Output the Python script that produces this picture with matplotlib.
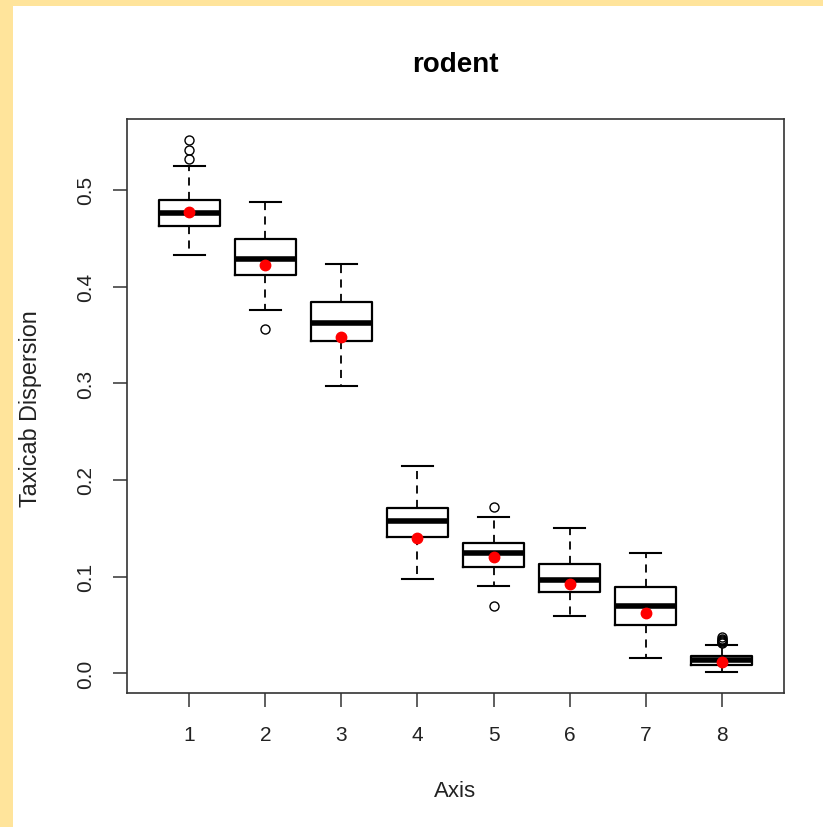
import matplotlib
matplotlib.use("Agg")
import matplotlib.pyplot as plt
from matplotlib.patches import Rectangle

plt.rcParams['font.family'] = ['Liberation Sans', 'DejaVu Sans']

axes_labels = [1, 2, 3, 4, 5, 6, 7, 8]
q1 = [0.4624, 0.4120, 0.3434, 0.1411, 0.1100, 0.0845, 0.0504, 0.0087]
medians = [0.4758, 0.4282, 0.3627, 0.1576, 0.1248, 0.0969, 0.0700, 0.0135]
q3 = [0.4892, 0.4489, 0.3838, 0.1707, 0.1349, 0.1128, 0.0893, 0.0180]
whisker_low = [0.4327, 0.3758, 0.2972, 0.0979, 0.0907, 0.0594, 0.0159, 0.0011]
whisker_high = [0.5247, 0.4875, 0.4234, 0.2142, 0.1617, 0.1500, 0.1245, 0.0297]
means = [0.4771, 0.4223, 0.3476, 0.1397, 0.1204, 0.0925, 0.0625, 0.0121]
outliers = [
    [0.5319, 0.5412, 0.5513],
    [0.3565],
    [],
    [],
    [0.1724, 0.0697],
    [],
    [],
    [0.0310, 0.0322, 0.0334, 0.0346, 0.0358, 0.0372],
]
yticks = [0.0, 0.1, 0.2, 0.3, 0.4, 0.5]

W, H = 823, 828
fig = plt.figure(figsize=(W / 100, H / 100), dpi=100)
fig.patch.set_facecolor('#FFE49B')
fig.add_artist(Rectangle((13 / W, 0), 1 - 13 / W, 1 - 7 / H, transform=fig.transFigure,
                         facecolor='white', edgecolor='none', zorder=0))

ax = fig.add_axes([127 / W, 1 - 694 / H, (784 - 127) / W, (694 - 120) / H])
ax.set_facecolor('white')

stats = []
for i in range(len(axes_labels)):
    stats.append(dict(med=medians[i], q1=q1[i], q3=q3[i], whislo=whisker_low[i],
                      whishi=whisker_high[i], fliers=outliers[i], mean=means[i],
                      label=str(axes_labels[i])))

ax.bxp(stats, positions=axes_labels, widths=0.8, showmeans=False, patch_artist=False,
       boxprops=dict(color='black', linewidth=1.6),
       medianprops=dict(color='black', linewidth=4.0, solid_capstyle='butt'),
       whiskerprops=dict(color='black', linewidth=1.3, linestyle=(0, (4.5, 3.5))),
       capprops=dict(color='black', linewidth=1.5),
       capwidths=0.4,
       flierprops=dict(marker='o', markerfacecolor='none', markeredgecolor='black',
                       markersize=6.5, markeredgewidth=1.0))

ax.plot(axes_labels, means, linestyle='none', marker='o', color='red',
        markersize=7.5, zorder=5)

ax.set_xlim(0.18, 8.82)
ax.set_ylim(-0.0203, 0.5733)
ax.set_xticks(axes_labels)
ax.set_xticklabels([str(a) for a in axes_labels], va='center')
ax.set_yticks(yticks)
ax.set_yticklabels([f"{t:.1f}" for t in yticks], rotation=90, va='center', ha='center')
ax.tick_params(axis='both', direction='out', length=10, width=1.1, colors='#333333',
               labelsize=15, labelcolor='#222222')
ax.tick_params(axis='x', pad=20.2)
ax.tick_params(axis='y', pad=19.5)
for s in ax.spines.values():
    s.set_linewidth(1.2)
    s.set_color('#333333')

fig.text(455 / W, 1 - 65 / H, 'rodent', ha='center', va='center',
         fontsize=20, fontweight='bold')
fig.text(455 / W, 1 - 792 / H, 'Axis', ha='center', va='center', fontsize=16,
         color='#222222')
fig.text(31 / W, 1 - 409 / H, 'Taxicab Dispersion', ha='center', va='center',
         rotation=90, fontsize=16.8, color='#222222')

fig.savefig('out.png', dpi=100, facecolor=fig.get_facecolor())
